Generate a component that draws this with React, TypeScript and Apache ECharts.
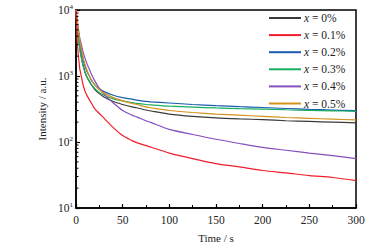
import React, { useEffect, useRef } from "react";
import * as echarts from "echarts";

const seriesNames = ["0%", "0.1%", "0.2%", "0.3%", "0.4%", "0.5%"];
const colors = ["#3a3a3a", "#f21d2b", "#1a5cb0", "#17ae5e", "#8550bd", "#d4911c"];

const times = [0, 1, 2, 4, 5, 7, 8, 10, 12, 15, 16, 20, 25, 30, 40, 50, 60, 65, 75, 80, 100, 125, 150, 175, 200, 225, 250, 275, 300];

const black = [10000, 6000, 4500, 2700, 2200, 1600, 1400, 1100, 950, 800, 750, 630, 540, 480, 410, 370, 340, 330, 305, 295, 265, 245, 232, 224, 218, 210, 205, 200, 195];
const red = [10000, 4000, 2500, 1300, 1100, 800, 700, 570, 500, 420, 400, 320, 270, 230, 165, 125, 105, 98, 88, 84, 68, 56, 47, 42, 37, 34, 31, 29, 26];
const blue = [10000, 7000, 5000, 3200, 2600, 2000, 1700, 1350, 1150, 950, 880, 740, 640, 580, 510, 470, 445, 430, 412, 405, 390, 370, 355, 343, 333, 322, 312, 305, 298];
const green = [10000, 5800, 4200, 2600, 2100, 1550, 1350, 1100, 950, 800, 760, 650, 560, 510, 450, 420, 395, 385, 370, 365, 350, 338, 328, 320, 315, 308, 302, 297, 292];
const purple = [10000, 8000, 6000, 3800, 3300, 2500, 2200, 1800, 1500, 1200, 1100, 850, 650, 530, 390, 300, 255, 240, 210, 198, 155, 130, 110, 95, 83, 75, 68, 62, 56];
const orange = [10000, 7500, 5500, 3500, 2900, 2100, 1800, 1450, 1200, 950, 900, 740, 620, 550, 470, 420, 385, 370, 340, 330, 300, 280, 265, 255, 245, 235, 228, 222, 216];

const allSeries = [black, red, blue, green, purple, orange];

const yMinorTicks = [20, 30, 40, 50, 60, 70, 80, 90, 200, 300, 400, 500, 600, 700, 800, 900, 2000, 3000, 4000, 5000, 6000, 7000, 8000, 9000];

const serif = "'Liberation Serif', 'DejaVu Serif', serif";

export default function App() {
  const ref = useRef<HTMLDivElement>(null);
  useEffect(() => {
    if (!ref.current) return;
    const chart = echarts.init(ref.current, undefined, { renderer: "svg" });
    const lineSeries = allSeries.map((vals, i) => ({
      name: seriesNames[i],
      type: "line",
      data: times.map((t, j) => [t, vals[j]]),
      showSymbol: false,
      smooth: 0.3,
      lineStyle: { color: colors[i], width: 1.2 },
      itemStyle: { color: colors[i] },
      z: i === 1 ? 3 : 2,
    }));
    chart.setOption({
      animation: false,
      textStyle: { fontFamily: serif },
      grid: {
        left: 76,
        right: 29,
        top: 10,
        bottom: 35,
        show: true,
        borderColor: "#000",
        borderWidth: 1.5,
        backgroundColor: "transparent",
      },
      legend: {
        data: seriesNames,
        orient: "vertical",
        left: 264,
        top: 6,
        icon: "rect",
        itemWidth: 32,
        itemHeight: 2,
        itemGap: 3.1,
        textStyle: {
          fontFamily: serif,
          fontSize: 11.5,
          color: "#222",
          lineHeight: 14,
          padding: [0, 0, 0, -2],
          rich: { i: { fontStyle: "italic", fontFamily: serif, fontSize: 11.5, color: "#222" } },
        },
        formatter: (n: string) => `{i|x} = ${n}`,
      },
      xAxis: {
        type: "value",
        min: 0,
        max: 300,
        interval: 50,
        name: "Time / s",
        nameLocation: "middle",
        nameGap: 24,
        nameTextStyle: { fontFamily: serif, fontSize: 11, color: "#222" },
        axisLine: { lineStyle: { color: "#000", width: 1.5 } },
        axisTick: { inside: true, length: 4, lineStyle: { color: "#000", width: 1.2 } },
        minorTick: { show: true, splitNumber: 2, length: 3, lineStyle: { color: "#000", width: 1 } },
        splitLine: { show: false },
        axisLabel: { fontFamily: serif, fontSize: 11.5, color: "#222", margin: 6 },
      },
      yAxis: {
        type: "log",
        logBase: 10,
        min: 10,
        max: 10000,
        name: "Intensity / a.u.",
        nameLocation: "middle",
        nameGap: 24,
        nameTextStyle: { fontFamily: serif, fontSize: 11, color: "#222" },
        axisLine: { lineStyle: { color: "#000", width: 1.5 } },
        axisTick: { inside: true, length: 4, lineStyle: { color: "#000", width: 1.2 } },
        splitLine: { show: false },
        axisLabel: {
          margin: 3,
          formatter: (v: number) => `{b|10}{s|${Math.round(Math.log10(v))}}`,
          rich: {
            b: { fontFamily: serif, fontSize: 11.5, color: "#222" },
            s: { fontFamily: serif, fontSize: 7, color: "#222", padding: [0, 0, 7, 0] },
          },
        },
      },
      series: [
        ...lineSeries,
        {
          name: "minorTicks",
          type: "custom",
          silent: true,
          data: yMinorTicks.map((v) => [0, v]),
          renderItem: (_p: any, api: any) => {
            const c = api.coord([0, api.value(1)]);
            return {
              type: "line",
              shape: { x1: c[0], y1: c[1], x2: c[0] + 2.5, y2: c[1] },
              style: { stroke: "#000", lineWidth: 1 },
            };
          },
          z: 5,
        },
      ],
    });
    return () => chart.dispose();
  }, []);
  return <div ref={ref} style={{ width: 385, height: 248, position: "absolute", left: 0, top: 0 }} />;
}
